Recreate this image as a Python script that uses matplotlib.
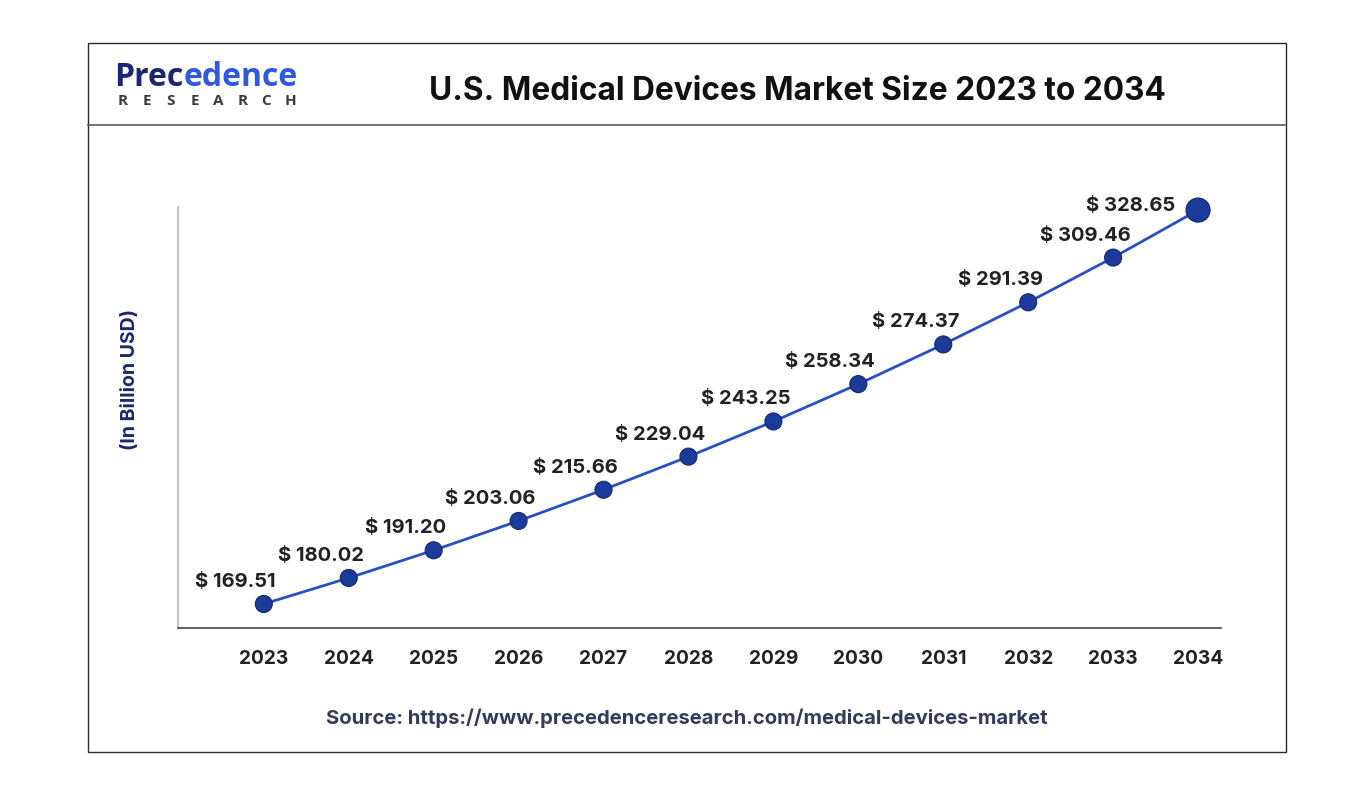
import numpy as np
import matplotlib
matplotlib.use('Agg')
import matplotlib.pyplot as plt
from matplotlib.patches import Rectangle
from matplotlib.lines import Line2D

# data
years = [2023, 2024, 2025, 2026, 2027, 2028, 2029, 2030, 2031, 2032, 2033, 2034]
market_size = [169.51, 180.02, 191.20, 203.06, 215.66, 229.04,
               243.25, 258.34, 274.37, 291.39, 309.46, 328.65]
title_text = 'U.S. Medical Devices Market Size 2023 to 2034'
ylabel_text = '(In Billion USD)'
source_text = 'Source: https://www.precedenceresearch.com/medical-devices-market'

W, H = 1352, 796
fig = plt.figure(figsize=(W / 100, H / 100), dpi=100)
fig.patch.set_facecolor('white')

FONT = 'Inter'
dark = '#222226'
navy = '#1c2570'
line_col = '#2750c2'
dot_col = '#1b3a9c'


def fx(px):
    return px / W


def fy(py):
    return 1 - py / H


# outer frame and header separator
fig.add_artist(Rectangle((fx(88), fy(752)), fx(1286 - 88), (752 - 43) / H,
                         transform=fig.transFigure, fill=False,
                         edgecolor='#2b2b2b', linewidth=1.0))
fig.add_artist(Line2D([fx(88), fx(1286)], [fy(125), fy(125)],
                      transform=fig.transFigure, color='#5a5a66', linewidth=1.2))

# logo
renderer = fig.canvas.get_renderer()
t1 = fig.text(fx(114), fy(86), 'Prec', family='Open Sans', fontsize=23,
              fontweight='bold', color=navy, va='baseline', ha='left')
bb = t1.get_window_extent(renderer)
fig.text(bb.x1 / W, fy(86), 'edence', family='Open Sans', fontsize=23,
         fontweight='bold', color='#2f5ae0', va='baseline', ha='left')
for ch, xp in zip('RESEARCH', np.linspace(123, 290, 8)):
    fig.text(fx(xp), fy(105), ch, family='Open Sans', fontsize=11,
             fontweight='bold', color='#3a3a40', va='baseline', ha='center')

# title
fig.text(fx(797), fy(92), title_text, family=FONT, fontsize=22.8,
         fontweight='bold', color='#111114', ha='center', va='center')

# plot area
ax = fig.add_axes([fx(178), fy(628), fx(1221 - 178), (628 - 207) / H])
ax.set_facecolor('none')
ax.plot(years, market_size, color=line_col, linewidth=2, zorder=2)
sizes = [150] * (len(years) - 1) + [300]
ax.scatter(years, market_size, s=sizes, color=dot_col, edgecolor='#12296e',
           linewidth=0.8, zorder=3, clip_on=False)

for i, (yr, val) in enumerate(zip(years, market_size)):
    if i == len(years) - 1:
        ax.annotate(f'$ {val:.2f}', (yr, val), xytext=(-23, 4),
                    textcoords='offset pixels', ha='right', va='center',
                    family=FONT, fontsize=14.5, fontweight='bold', color=dark)
    else:
        ax.annotate(f'$ {val:.2f}', (yr, val), xytext=(-28, 22),
                    textcoords='offset pixels', ha='center', va='center',
                    family=FONT, fontsize=14.5, fontweight='bold', color=dark)

ax.set_xlim(2021.99, 2034.27)
ax.set_ylim(159.8, 329.9)
ax.set_xticks(years)
ax.set_xticklabels([str(y) for y in years], family=FONT, fontsize=13.8,
                   fontweight='bold', color=dark)
ax.tick_params(axis='x', length=0, pad=16)
ax.set_yticks([])
for side in ['top', 'right']:
    ax.spines[side].set_visible(False)
ax.spines['left'].set_color('#c4c4c4')
ax.spines['left'].set_linewidth(1.5)
ax.spines['bottom'].set_color('#444444')
ax.spines['bottom'].set_linewidth(1.2)

fig.text(fx(130), fy(380), ylabel_text, family=FONT, fontsize=14,
         fontweight='bold', color=navy, rotation=90, ha='center', va='center')

fig.text(fx(687), fy(718), source_text, family=FONT, fontsize=14.6,
         fontweight='bold', color='#333a5c', ha='center', va='center')

fig.savefig('out.png', dpi=100, facecolor='white')
